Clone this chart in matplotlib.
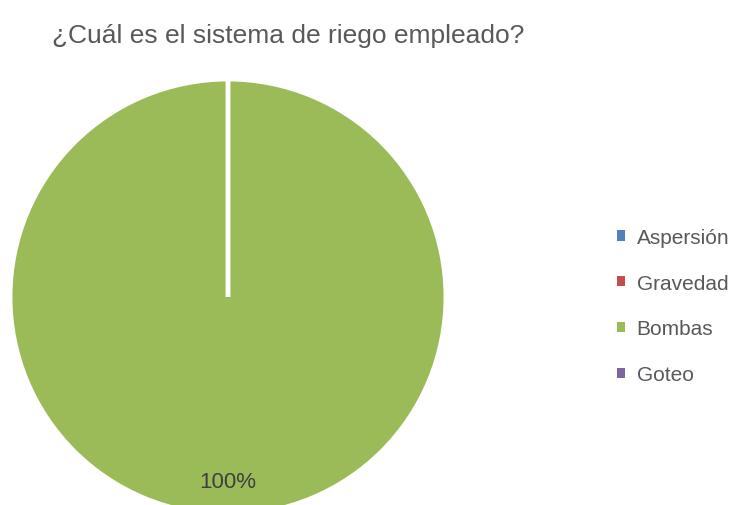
import matplotlib.pyplot as plt
from matplotlib.patches import Patch

categorias = ['Aspersión', 'Gravedad', 'Bombas', 'Goteo']
porcentajes = [0, 0, 100, 0]
colores = ['#4F81BD', '#C0504D', '#9BBB59', '#8064A2']

plt.rcParams['font.family'] = ['Liberation Sans', 'DejaVu Sans']

fig = plt.figure(figsize=(7.35, 5.06), dpi=100)
ax = fig.add_axes([10 / 735, -10 / 506, 436 / 735, 436 / 506])

wedges, texts, autotexts = ax.pie(
    porcentajes, colors=colores, startangle=90, counterclock=False,
    autopct=lambda p: f'{p:.0f}%' if p > 0 else '', pctdistance=0.845,
    wedgeprops=dict(edgecolor='white', linewidth=3.5),
    textprops=dict(color='#404040', fontsize=16))
ax.set_xlim(-1, 1)
ax.set_ylim(-1, 1)
ax.set_aspect('equal')
ax.axis('off')

fig.text(52 / 735, 1 - 36 / 506, '¿Cuál es el sistema de riego empleado?',
         fontsize=19, color='#595959', va='center', ha='left')

handles = [Patch(facecolor=c, edgecolor='none') for c in colores]
fig.legend(handles, categorias, loc='center left',
           bbox_to_anchor=(598 / 735, 1 - 307 / 506), frameon=False,
           fontsize=15, labelcolor='#595959', handlelength=0.4, handleheight=0.4,
           handletextpad=0.55, labelspacing=1.29, borderpad=0.4)

fig.savefig('out.png', dpi=100)
